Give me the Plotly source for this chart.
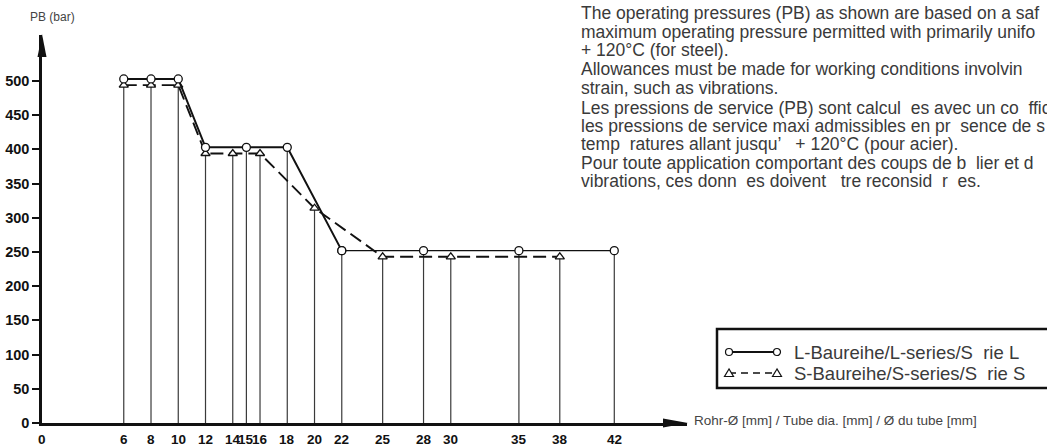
import plotly.graph_objects as go

# ---------------- data ----------------
x_ticks = [0, 6, 8, 10, 12, 14, 15, 16, 18, 20, 22, 25, 28, 30, 35, 38, 42]
y_ticks = [0, 50, 100, 150, 200, 250, 300, 350, 400, 450, 500]

l_x = [6, 8, 10, 12, 15, 18, 22, 28, 35, 42]
l_pb = [503, 503, 503, 403, 403, 403, 252, 252, 252, 252]

s_x = [6, 8, 10, 12, 14, 16, 20, 25, 30, 38]
s_pb = [494, 494, 494, 394, 394, 394, 314, 243, 243, 243]

l_name = "L-Baureihe/L-series/S  rie L"
s_name = "S-Baureihe/S-series/S  rie S"
y_title = "PB (bar)"
x_title = "Rohr-Ø [mm] / Tube dia. [mm] / Ø du tube [mm]"

notes = [
    "The operating pressures (PB) as shown are based on a saf",
    "maximum operating pressure permitted with primarily unifo",
    "+ 120°C (for steel).",
    "Allowances must be made for working conditions involvin",
    "strain, such as vibrations.",
    "Les pressions de service (PB) sont calcul  es avec un co  ffici",
    "les pressions de service maxi admissibles en pr  sence de s",
    "temp  ratures allant jusqu’   + 120°C (pour acier).",
    "Pour toute application comportant des coups de b  lier et d",
    "vibrations, ces donn  es doivent   tre reconsid  r  es.",
]
note_rows = [13, 32, 50, 69, 88, 108, 126, 144, 163, 181]

# ---------------- geometry ----------------
W, H = 1047, 447
ML, MR, MT, MB = 42, 360, 35, 24
PW, PH = W - ML - MR, H - MT - MB
X_MAX = PW / 13.626
Y_MAX = PH / 0.684


def px(xp):
    return (xp - ML) / PW


def py(yp):
    return (H - MB - yp) / PH


# vertical drop lines built from the data
tops = {}
for xs, vs in ((l_x, l_pb), (s_x, s_pb)):
    for xv, v in zip(xs, vs):
        tops[xv] = max(tops.get(xv, 0), v)
vx, vy = [], []
for xv in sorted(tops):
    vx += [xv, xv, None]
    vy += [0, tops[xv], None]

split = l_x.index(22)
mk_l = dict(symbol="circle", size=8, color="white", line=dict(color="#111", width=1.3))
mk_s = dict(symbol="triangle-up", size=8, color="white", line=dict(color="#111", width=1.3))

fig = go.Figure()
fig.add_trace(go.Scatter(x=vx, y=vy, mode="lines",
                         line=dict(color="#3a3a3a", width=1.2),
                         hoverinfo="skip", showlegend=False))
fig.add_trace(go.Scatter(x=s_x, y=s_pb, mode="lines+markers", name=s_name,
                         line=dict(color="#111", width=1.9, dash="13px,6px"),
                         marker=mk_s, showlegend=False, cliponaxis=False))
fig.add_trace(go.Scatter(x=l_x[:split + 1], y=l_pb[:split + 1], mode="lines+markers", name=l_name,
                         line=dict(color="#111", width=2), marker=mk_l,
                         showlegend=False, cliponaxis=False))
fig.add_trace(go.Scatter(x=l_x[split:], y=l_pb[split:], mode="lines+markers", name=l_name,
                         line=dict(color="#111", width=1.3), marker=mk_l,
                         showlegend=False, cliponaxis=False))

shapes = []
# axis arrows
shapes.append(dict(type="path", xref="paper", yref="paper",
                   path=f"M {px(42)} {py(34)} L {px(37.5)} {py(57)} L {px(46.5)} {py(57)} Z",
                   fillcolor="#111", line=dict(width=0), layer="above"))
shapes.append(dict(type="path", xref="paper", yref="paper",
                   path=f"M {px(688)} {py(423)} L {px(663)} {py(418.5)} L {px(663)} {py(427.5)} Z",
                   fillcolor="#111", line=dict(width=0), layer="above"))
# legend box
shapes.append(dict(type="rect", xref="paper", yref="paper",
                   x0=px(717), x1=px(1052), y0=py(329), y1=py(388),
                   line=dict(color="#111", width=2.5), fillcolor="rgba(0,0,0,0)"))
# legend samples
lx0, lx1, ly1, ly2 = 729, 777, 352, 373
shapes.append(dict(type="line", xref="paper", yref="paper",
                   x0=px(lx0), x1=px(lx1), y0=py(ly1), y1=py(ly1),
                   line=dict(color="#111", width=1.8)))
shapes.append(dict(type="line", xref="paper", yref="paper",
                   x0=px(lx0), x1=px(lx1), y0=py(ly2), y1=py(ly2),
                   line=dict(color="#111", width=1.5, dash="7px,5px")))
for cx in (lx0, lx1):
    shapes.append(dict(type="circle", xref="paper", yref="paper",
                       x0=px(cx - 3.5), x1=px(cx + 3.5), y0=py(ly1 - 3.5), y1=py(ly1 + 3.5),
                       fillcolor="white", line=dict(color="#111", width=1.2), layer="above"))
    shapes.append(dict(type="path", xref="paper", yref="paper",
                       path=f"M {px(cx)} {py(ly2 - 4)} L {px(cx - 4.5)} {py(ly2 + 3.5)} L {px(cx + 4.5)} {py(ly2 + 3.5)} Z",
                       fillcolor="white", line=dict(color="#111", width=1.2), layer="above"))

annotations = []
txt_font = dict(family="Liberation Sans, Arial, sans-serif", size=17.5, color="#3a3a3a")
for t, r in zip(notes, note_rows):
    annotations.append(dict(text=t, xref="paper", yref="paper", x=px(579), y=py(r),
                            xanchor="left", yanchor="middle", showarrow=False, font=txt_font))
leg_font = dict(family="Liberation Sans, Arial, sans-serif", size=18.5, color="#3a3a3a")
annotations.append(dict(text=l_name, xref="paper", yref="paper", x=px(792), y=py(ly1),
                        xanchor="left", yanchor="middle", showarrow=False, font=leg_font))
annotations.append(dict(text=s_name, xref="paper", yref="paper", x=px(792), y=py(ly2),
                        xanchor="left", yanchor="middle", showarrow=False, font=leg_font))
annotations.append(dict(text=y_title, xref="paper", yref="paper", x=px(52), y=py(17),
                        xanchor="center", yanchor="middle", showarrow=False,
                        font=dict(family="Liberation Sans, Arial, sans-serif", size=12, color="#444")))
annotations.append(dict(text=x_title, xref="paper", yref="paper", x=px(692), y=py(420),
                        xanchor="left", yanchor="middle", showarrow=False,
                        font=dict(family="Liberation Sans, Arial, sans-serif", size=13.5, color="#444")))
# x tick labels (placed tight under the axis as in the reference)
for v in x_ticks:
    annotations.append(dict(text=str(v), xref="x", yref="paper", x=v, y=py(439),
                            xanchor="center", yanchor="middle", showarrow=False,
                            font=dict(family="Liberation Sans, Arial, sans-serif", size=13.5,
                                      color="#111", weight="bold")))

fig.update_layout(
    width=W, height=H,
    margin=dict(l=ML, r=MR, t=MT, b=MB, autoexpand=False),
    plot_bgcolor="white", paper_bgcolor="white",
    showlegend=False,
    shapes=shapes, annotations=annotations,
    xaxis=dict(range=[0, X_MAX], tickmode="array", tickvals=x_ticks,
               showticklabels=False,
               showgrid=False, zeroline=False, showline=True, linecolor="#111", linewidth=2.5,
               ticks="", automargin=False),
    yaxis=dict(range=[0, Y_MAX], tickmode="array", tickvals=y_ticks,
               ticktext=[str(v) for v in y_ticks],
               showgrid=False, zeroline=False, showline=True, linecolor="#111", linewidth=2.5,
               ticks="outside", ticklen=7, tickwidth=1.5, tickcolor="#111", automargin=False,
               tickfont=dict(family="Liberation Sans, Arial, sans-serif",
                             size=14.5, color="#111", weight="bold")),
)

fig.write_html("out.html", config={"displayModeBar": False},
               post_script="document.body.style.margin='0';")
